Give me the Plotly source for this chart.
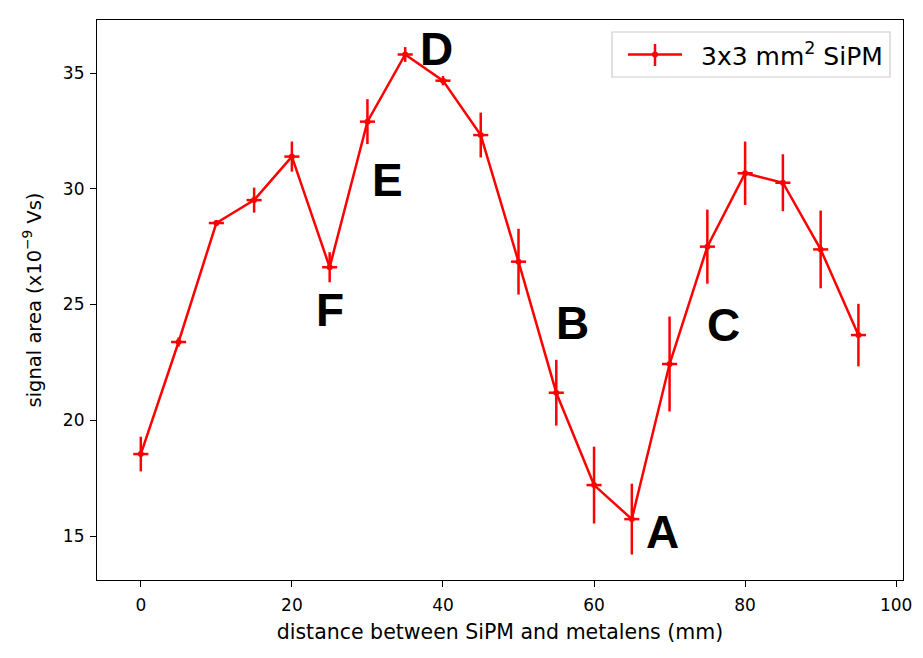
import plotly.graph_objects as go

distance_mm = [0, 5, 10, 15, 20, 25, 30, 35, 40, 45, 50, 55, 60, 65, 70, 75, 80, 85, 90, 95]
signal_area = [18.54, 23.38, 28.52, 29.51, 31.39, 26.61, 32.90, 35.80, 34.67, 32.32,
               26.85, 21.19, 17.20, 15.73, 22.43, 27.50, 30.67, 30.26, 27.38, 23.68]
signal_err = [0.75, 0.2, 0.12, 0.54, 0.65, 0.65, 0.97, 0.32, 0.2, 0.97,
              1.42, 1.42, 1.66, 1.53, 2.05, 1.60, 1.37, 1.23, 1.68, 1.35]
distance_err = [1.0] * len(distance_mm)

label_text = ["D", "E", "F", "B", "C", "A"]
label_x = [39.15, 32.65, 25.05, 57.1, 77.1, 69.05]
label_y = [36.03, 30.38, 24.76, 24.2, 24.11, 15.17]

x_ticks = [0, 20, 40, 60, 80, 100]
y_ticks = [15, 20, 25, 30, 35]
legend_label = "3x3 mm<sup>2</sup> SiPM"

RED = "#ff0000"
# the page body has an 8 px margin, so the figure is laid out 8 px in
W, H = 907, 642
ML, MR, MT, MB = 89, 12, 12, 70
PW, PH = W - ML - MR, H - MT - MB

fig = go.Figure()
fig.add_trace(go.Scatter(
    x=distance_mm, y=signal_area,
    mode="lines+markers", name=legend_label,
    line=dict(color=RED, width=2.5),
    marker=dict(color=RED, size=6),
    error_y=dict(type="data", array=signal_err, color=RED, thickness=2.5, width=0),
    error_x=dict(type="data", array=distance_err, color=RED, thickness=2.5, width=0),
    showlegend=False,
))

for t, lx, ly in zip(label_text, label_x, label_y):
    fig.add_annotation(x=lx, y=ly, text=t, showarrow=False,
                       font=dict(family="Liberation Sans, Arial", size=46, color="black",
                                 weight="bold"),
                       xanchor="center", yanchor="middle")


def px2paper_x(p):
    return (p - 8 - ML) / PW


def px2paper_y(p):
    return (H - MB - (p - 8)) / PH


# legend box drawn by hand (matplotlib style with error-bar glyph)
fig.add_shape(type="rect", xref="paper", yref="paper",
              x0=px2paper_x(612), x1=px2paper_x(890), y0=px2paper_y(77), y1=px2paper_y(32),
              fillcolor="white", line=dict(color="#cccccc", width=1.2))
fig.add_shape(type="line", xref="paper", yref="paper",
              x0=px2paper_x(628), x1=px2paper_x(682), y0=px2paper_y(54.5), y1=px2paper_y(54.5),
              line=dict(color=RED, width=2.5))
fig.add_shape(type="line", xref="paper", yref="paper",
              x0=px2paper_x(655), x1=px2paper_x(655), y0=px2paper_y(44), y1=px2paper_y(66),
              line=dict(color=RED, width=2.5))
fig.add_shape(type="circle", xref="paper", yref="paper",
              x0=px2paper_x(652), x1=px2paper_x(658), y0=px2paper_y(57.5), y1=px2paper_y(51.5),
              fillcolor=RED, line=dict(color=RED, width=0))
fig.add_annotation(xref="paper", yref="paper", x=px2paper_x(699), y=px2paper_y(54.5),
                   text=legend_label, showarrow=False, xanchor="left", yanchor="middle",
                   font=dict(family="DejaVu Sans", size=25, color="black"))

axis_font = dict(family="DejaVu Sans", size=17, color="black")
fig.update_layout(
    width=W, height=H,
    margin=dict(l=ML, r=MR, t=MT, b=MB),
    paper_bgcolor="white", plot_bgcolor="white",
    font=dict(family="DejaVu Sans", color="black"),
    showlegend=False,
    xaxis=dict(range=[-5.8, 100.9], tickvals=x_ticks, ticks="outside", ticklen=6,
               tickwidth=1.2, tickcolor="black", showline=True, linecolor="black",
               linewidth=1.2, mirror=True, showgrid=False, zeroline=False,
               tickfont=axis_font, ticklabelstandoff=3, automargin=False,
               title=dict(text="distance between SiPM and metalens (mm)",
                          font=dict(family="DejaVu Sans", size=20.5), standoff=11)),
    yaxis=dict(range=[13.1, 37.29], tickvals=y_ticks, ticks="outside", ticklen=6,
               tickwidth=1.2, tickcolor="black", showline=True, linecolor="black",
               linewidth=1.2, mirror=True, showgrid=False, zeroline=False,
               tickfont=axis_font, ticklabelstandoff=2, automargin=False,
               title=dict(text="signal area (x10<sup>−9</sup> Vs)",
                          font=dict(family="DejaVu Sans", size=19.5), standoff=16)),
)

fig.write_html("out.html")
